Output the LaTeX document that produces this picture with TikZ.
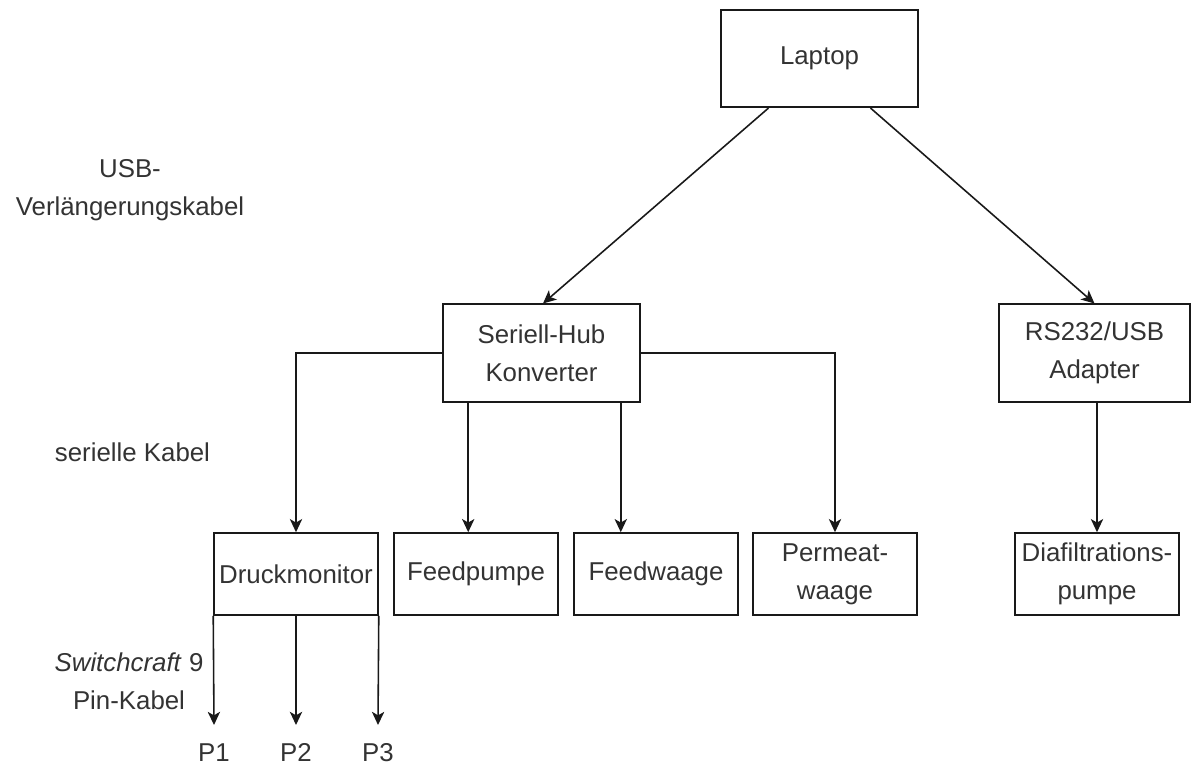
\documentclass[tikz,border=0pt]{standalone}
\usepackage{fontspec}
\setmainfont{Liberation Sans}
\usetikzlibrary{arrows.meta}

\begin{document}
\begin{tikzpicture}[x=0.02cm,y=-0.02cm,
  font=\fontsize{14.7}{21.6}\selectfont, text=black!80,
  box/.style={draw=black!90, line width=0.9pt, align=center, inner sep=2pt},
  big/.style={box, minimum width=3.94cm, minimum height=1.95cm},
  dev/.style={box, minimum width=3.28cm, minimum height=1.64cm},
  arr/.style={draw=black!90, line width=0.9pt, -{Stealth[length=7.5pt,width=7pt,inset=2pt]}},
  lbl/.style={align=center}]
\useasboundingbox (0,0) rectangle (1191,765);
\node[big] (lap) at (819.5,58.5) {Laptop}; %top
\node[big] (hub) at (541.5,353) {Seriell-Hub\\Konverter};
\node[big, minimum width=3.82cm] (adp) at (1094.5,353) {RS232/USB\\Adapter};
\node[dev] (dm) at (296,574) {Druckmonitor}; %devices
\node[dev] (fp) at (476,574) {Feedpumpe};
\node[dev] (fw) at (656,574) {Feedwaage};
\node[dev] (pw) at (835,574) {Permeat-\\waage};
\node[dev] (dia) at (1097,574) {Diafiltrations-\\pumpe};
\node[lbl, anchor=north, inner sep=0.36cm] (p1) at (214,725) {P1}; %pins
\node[lbl, anchor=north, inner sep=0.36cm] (p2) at (296,725) {P2};
\node[lbl, anchor=north, inner sep=0.36cm] (p3) at (378,725) {P3};
\node[lbl] (usb) at (130,190) {USB-\\Verlängerungskabel}; %cable names
\node[lbl] (ser) at (132.5,452) {serielle Kabel};
\node[lbl] (sw) at (129,681) {\textit{Switchcraft} 9\\Pin-Kabel};
\draw[arr] ([xshift=-1.02cm]lap.south) -- ([xshift=0.03cm]hub.north); %usb
\draw[arr] ([xshift=1.02cm]lap.south) -- (adp.north);
\draw[arr] (hub.west) -| (dm.north); %serial
\draw[arr] ([xshift=0.52cm]hub.south west) -- ([xshift=0.52cm]hub.south west |- fp.north);
\draw[arr] ([xshift=-0.4cm]hub.south east) -- ([xshift=-0.4cm]hub.south east |- fw.north);
\draw[arr] (hub.east) -| (pw.north);
\draw[arr] (dia.north |- adp.south) -- (dia.north);
\draw[arr] (dm.south west) -- (p1.north); %pin cables
\draw[arr] (dm.south) -- (p2.north);
\draw[arr] (dm.south east) -- (p3.north);
\end{tikzpicture}
\end{document}
